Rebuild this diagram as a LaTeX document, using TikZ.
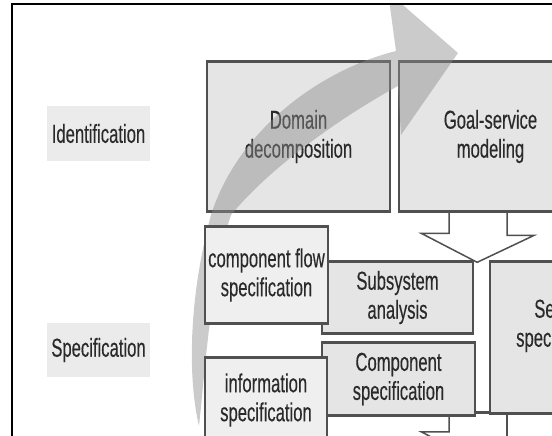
\documentclass[tikz,border=0pt]{standalone}
\usepackage{fontspec}
\setmainfont{Liberation Sans}[FakeStretch=0.64,FakeBold=0.25]
\usetikzlibrary{calc}
\definecolor{boxfill}{HTML}{E5E5E5}
\definecolor{litefill}{HTML}{EFEFEF}
\definecolor{lblfill}{HTML}{EBEBEB}
\definecolor{boxline}{HTML}{505050}
\definecolor{txtcol}{HTML}{2A2A2A}
\tikzset{
  blk/.style={draw=boxline,line width=1.6pt,fill=boxfill,align=center,inner sep=0pt,text=txtcol},
  litblk/.style={blk,fill=litefill},
  lbl/.style={fill=lblfill,inner sep=0pt,text=txtcol,minimum width=103pt,minimum height=54pt},
  hedge/.style={draw=boxline,line width=3pt},
  flowarr/.style={fill=black!45,opacity=0.45},
  mrgarr/.style={draw=boxline,line width=1.5pt}
}
\newcommand\boxedges[1]{\draw[hedge] (#1.north west) -- (#1.north east) (#1.south west) -- (#1.south east);}

\begin{document}
\begin{tikzpicture}[x=1pt,y=-1pt,font=\fontsize{26}{29}\selectfont]
  \useasboundingbox (0,0) rectangle (552,436);
  \begin{scope}
  \clip (12,4) rectangle (552,436);

  \node[lbl] (ident) at (98.5,133.5) {Identification};
  \node[lbl] (specl) at (98.5,350) {Specification};

  \node[blk,minimum width=183pt,minimum height=148pt] (dom) at (298.5,136.5) {Domain\\decomposition};
  \boxedges{dom}
  \node[blk,minimum width=183pt,minimum height=148pt] (goal) at (490.5,136.5) {Goal-service\\modeling};
  \boxedges{goal}

  % big process arrow
  \fill[flowarr] (199,426) .. controls (188,380) and (188,300) .. (211,215)
    .. controls (238,130) and (320,70) .. (396,51)
    -- (388,-8) -- (458,53) -- (401,135) -- (398,86)
    .. controls (345,115) and (272,165) .. (231,215)
    .. controls (212,270) and (205,370) .. (199,426) -- cycle;

  \node[blk,minimum width=151pt,minimum height=71pt] (subsys) at (397.5,297.5) {Subsystem\\analysis};
  \boxedges{subsys}
  \node[litblk,minimum width=123pt,minimum height=96pt] (flow) at (266.5,275) {component flow\\specification};
  \boxedges{flow}
  \node[blk,minimum width=153pt,minimum height=72pt] (comp) at (398.5,379) {Component\\specification};
  \boxedges{comp}
  \node[litblk,minimum width=122pt,minimum height=84pt] (info) at (266,400) {information\\specification};
  \boxedges{info}
  \node[blk,minimum width=144pt,minimum height=151pt,
    label={[align=center,text=txtcol,yshift=12pt]center:{Service\\specification}}] (svc) at (562,337.5) {};
  \boxedges{svc}

  \draw[mrgarr] ($(goal.south west)+(51,0)$) -- ++(0,22) -- ++(-28,0) -- ++(56,29) -- ++(57,-27) -- ++(-27,0) -- ++(0,-24);
  \draw[mrgarr] ($(comp.south west)+(128,0)$) -- ++(0,16) -- ++(-28,0) -- ++(56,29);
  \draw[mrgarr] ($(svc.south west)+(18,0)$) -- ++(0,30);
  \draw[hedge] ([yshift=3pt]comp.south east) -- ([yshift=3pt]comp.south east -| svc.west);
  \end{scope}

  \draw[line width=2pt] (11.5,436) -- (11.5,4) -- (552,4);
\end{tikzpicture}
\end{document}
